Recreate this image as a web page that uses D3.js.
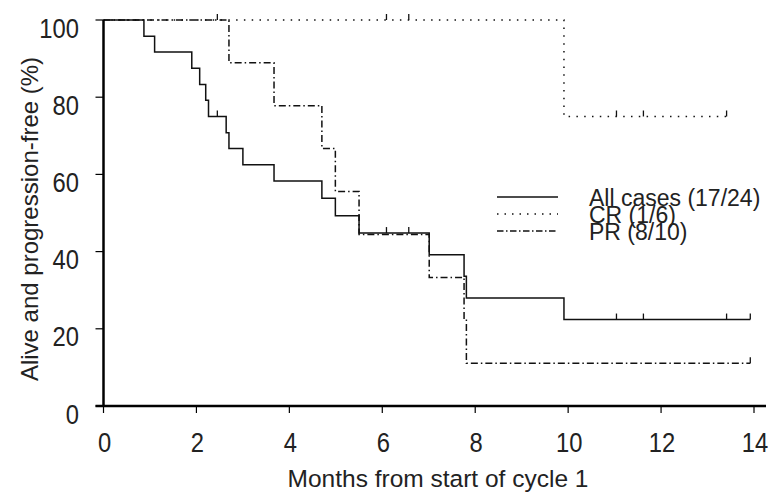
<!DOCTYPE html>
<html>
<head>
<meta charset="utf-8">
<script src="https://cdn.jsdelivr.net/npm/d3@7"></script>
<style>
    body { margin: 0; background: #fff; }
    svg { display: block; font-family: "Liberation Sans", Arial, sans-serif; }
    .curve { fill: none; stroke: #111; stroke-width: 1.5; }
    .censor { stroke: #111; stroke-width: 1.3; }
    .axisLine { stroke: #000; stroke-width: 2.5; }
    .tickLabel, .axisTitle, .legendLabel { fill: #222; }
</style>
</head>
<body>
<div id="chart"></div>
<script>
    "use strict";

    // step times (months) and survival (%)
    var allTimes = [0, 0.87, 1.10, 1.90, 2.07, 2.20, 2.26, 2.64, 2.70, 3.00, 3.67, 4.70, 4.99, 5.50, 7.01, 7.76, 7.81, 9.91];
    var allSurv = [100, 95.8, 91.7, 87.5, 83.3, 79.2, 75.0, 70.8, 66.7, 62.5, 58.3, 53.8, 49.3, 44.8, 39.2, 33.6, 28.0, 22.4];
    var allCensored = [2.45, 6.09, 6.57, 11.04, 11.62, 13.41, 13.92];
    var allEnd = 13.92;

    var crTimes = [0, 9.91];
    var crSurv = [100, 75];
    var crCensored = [6.09, 6.57, 11.04, 11.62, 13.41];
    var crEnd = 13.41;

    var prTimes = [0, 2.70, 3.67, 4.70, 4.99, 5.50, 7.01, 7.76, 7.81];
    var prSurv = [100, 88.9, 77.8, 66.7, 55.6, 44.4, 33.3, 22.2, 11.1];
    var prCensored = [2.45, 13.92];
    var prEnd = 13.92;

    var xTicks = [0, 2, 4, 6, 8, 10, 12, 14];
    var yTicks = [0, 20, 40, 60, 80, 100];
    var legendLabels = ["All cases (17/24)", "CR (1/6)", "PR (8/10)"];

    var width = 768;
    var height = 493;

    var x = d3.scaleLinear()
        .domain([0, 14])
        .range([103.5, 754]);

    var y = d3.scaleLinear()
        .domain([0, 100])
        .range([406, 20]);

    var svg = d3.select("#chart").append("svg")
        .attr("width", width)
        .attr("height", height);

    // survival value at time t for a step series
    function valueAt(times, surv, t) {
        var v = surv[0];
        for (var i = 0; i < times.length; i++) {
            if (times[i] <= t) v = surv[i];
        }
        return v;
    }

    function stepPoints(times, surv, end) {
        var pts = times.map(function (t, i) { return [t, surv[i]]; });
        pts.push([end, surv[surv.length - 1]]);
        return pts;
    }

    var stepLine = d3.line()
        .x(function (d) { return x(d[0]); })
        .y(function (d) { return y(d[1]); })
        .curve(d3.curveStepAfter);

    var series = [
        { name: "pr", times: prTimes, surv: prSurv, cens: prCensored, end: prEnd, dash: "7,3,1.5,3" },
        { name: "cr", times: crTimes, surv: crSurv, cens: crCensored, end: crEnd, dash: "1.5,6.3" },
        { name: "all", times: allTimes, surv: allSurv, cens: allCensored, end: allEnd, dash: null }
    ];

    var plot = svg.append("g").attr("class", "plot");

    series.forEach(function (s) {
        plot.append("path")
            .datum(stepPoints(s.times, s.surv, s.end))
            .attr("class", "curve " + s.name)
            .attr("stroke-dasharray", s.dash)
            .attr("d", stepLine);

        plot.selectAll(".censor." + s.name)
            .data(s.cens)
            .enter()
            .append("line")
            .attr("class", "censor " + s.name)
            .attr("x1", function (d) { return x(d); })
            .attr("x2", function (d) { return x(d); })
            .attr("y1", function (d) { return y(valueAt(s.times, s.surv, d)); })
            .attr("y2", function (d) { return y(valueAt(s.times, s.surv, d)) - 6; });
    });

    // axes drawn by hand to get the plain look of the original
    var axes = svg.append("g").attr("class", "axes");

    axes.append("line")
        .attr("class", "axisLine")
        .attr("x1", x(0)).attr("y1", y(100))
        .attr("x2", x(0)).attr("y2", y(0));
    axes.append("line")
        .attr("class", "axisLine")
        .attr("x1", x(0) - 8).attr("y1", y(0))
        .attr("x2", 766).attr("y2", y(0));

    axes.selectAll(".yTick")
        .data(yTicks)
        .enter()
        .append("line")
        .attr("class", "yTick")
        .attr("stroke", "#000")
        .attr("stroke-width", 1.2)
        .attr("x1", x(0) - 8)
        .attr("x2", x(0))
        .attr("y1", function (d) { return y(d); })
        .attr("y2", function (d) { return y(d); });

    axes.selectAll(".xTick")
        .data(xTicks)
        .enter()
        .append("line")
        .attr("class", "xTick")
        .attr("stroke", "#000")
        .attr("stroke-width", 1.2)
        .attr("x1", function (d) { return x(d); })
        .attr("x2", function (d) { return x(d); })
        .attr("y1", y(0))
        .attr("y2", y(0) + 7);

    // tick numbers are a bit condensed in the original, so squeeze them
    var squeeze = 0.88;

    axes.selectAll(".yLabel")
        .data(yTicks)
        .enter()
        .append("text")
        .attr("class", "tickLabel")
        .attr("font-size", 27)
        .attr("text-anchor", "end")
        .attr("transform", function (d) {
            return "translate(79," + (y(d) + 17.5) + ") scale(" + squeeze + ",1)";
        })
        .text(function (d) { return d; });

    axes.selectAll(".xLabel")
        .data(xTicks)
        .enter()
        .append("text")
        .attr("class", "tickLabel")
        .attr("font-size", 27)
        .attr("text-anchor", "middle")
        .attr("transform", function (d) {
            return "translate(" + (x(d) + 1) + ",452) scale(" + squeeze + ",1)";
        })
        .text(function (d) { return d; });

    svg.append("text")
        .attr("class", "axisTitle")
        .attr("font-size", 24.5)
        .attr("text-anchor", "middle")
        .attr("x", 438)
        .attr("y", 487)
        .text("Months from start of cycle 1");

    svg.append("text")
        .attr("class", "axisTitle")
        .attr("font-size", 24)
        .attr("text-anchor", "middle")
        .attr("transform", "translate(38,219) rotate(-90)")
        .text("Alive and progression-free (%)");

    // legend
    var legendDash = [null, "1.5,6", "6.5,2.5,1.5,2.5"];
    var legendGap = 17;
    var legend = svg.append("g").attr("class", "legend");

    legend.selectAll(".legendLine")
        .data(legendLabels)
        .enter()
        .append("line")
        .attr("class", "curve")
        .attr("stroke-dasharray", function (d, i) { return legendDash[i]; })
        .attr("x1", 497)
        .attr("x2", 558)
        .attr("y1", function (d, i) { return 197 + i * legendGap; })
        .attr("y2", function (d, i) { return 197 + i * legendGap; });

    legend.selectAll(".legendLabel")
        .data(legendLabels)
        .enter()
        .append("text")
        .attr("class", "legendLabel")
        .attr("font-size", 23)
        .attr("x", 589)
        .attr("y", function (d, i) { return 206 + i * legendGap; })
        .text(function (d) { return d; });
</script>
</body>
</html>
